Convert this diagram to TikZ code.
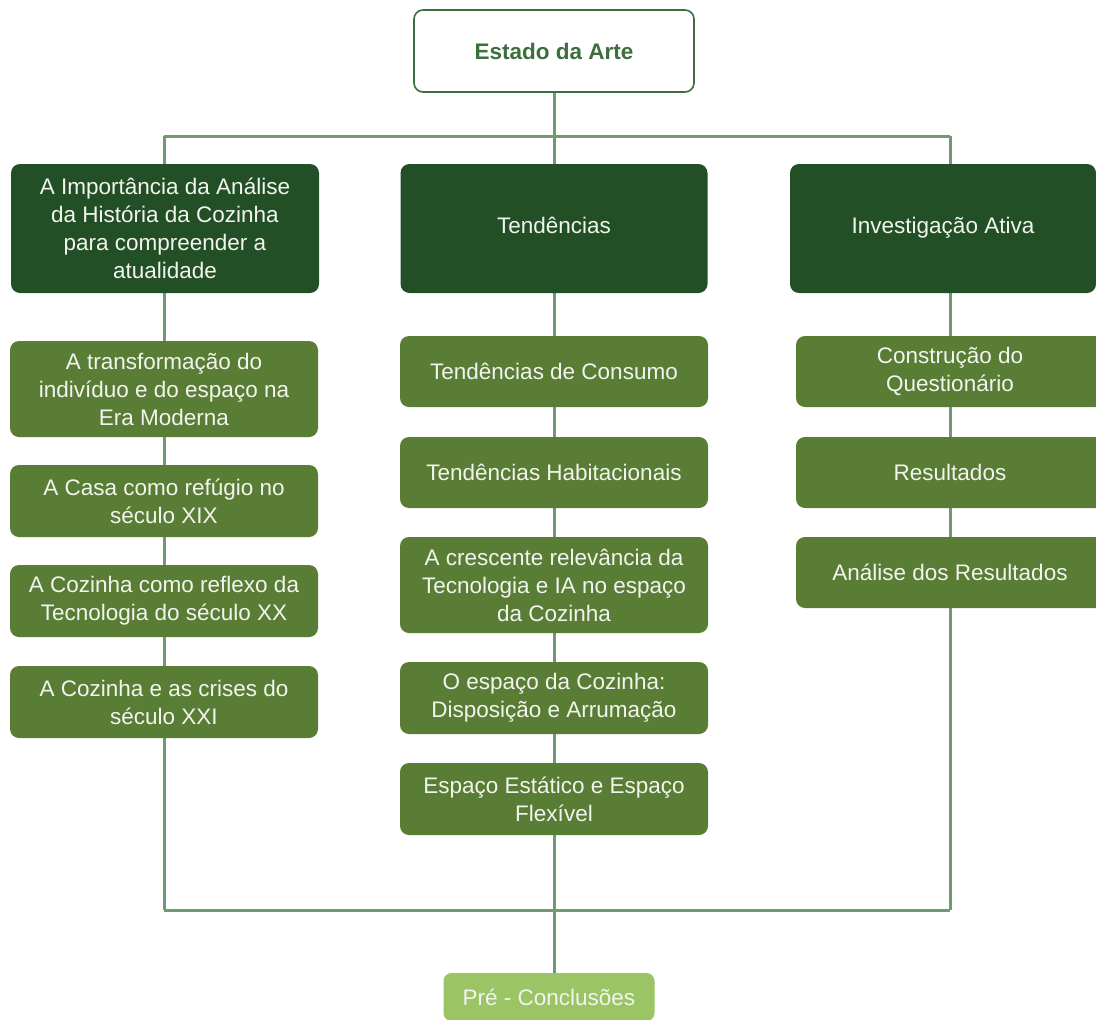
\documentclass[tikz,border=0pt]{standalone}
\usepackage{fontspec}
\setmainfont{Liberation Sans}
\usetikzlibrary{backgrounds}
\definecolor{darkgr}{HTML}{234F26}
\definecolor{midgr}{HTML}{5A7D35}
\definecolor{lightgr}{HTML}{9BC464}
\definecolor{linegr}{HTML}{6F9A72}
\definecolor{topgr}{HTML}{3C6E3E}
\definecolor{txtw}{HTML}{F2F4EE}
\tikzset{
  boxbase/.style={rounded corners=9pt, align=center, inner sep=0pt,
    font=\fontsize{22.5}{28}\selectfont, text=txtw},
  topbox/.style={boxbase, draw=topgr, line width=1.6pt, fill=white, text=topgr,
    font=\fontsize{22.5}{28}\selectfont\bfseries, minimum width=280pt, minimum height=82pt},
  headbox/.style={boxbase, fill=darkgr, minimum height=129pt},
  subbox/.style={boxbase, fill=midgr, minimum width=308pt},
  endbox/.style={boxbase, fill=lightgr, minimum width=211pt, minimum height=48pt, rounded corners=8pt},
  conn/.style={draw=linegr, line width=3pt}
}
\begin{document}
\begin{tikzpicture}[x=1pt,y={(0pt,-1pt)}]
\useasboundingbox (0,0) rectangle (1096,1020);
% top
\node[topbox] (top) at (554,51) {Estado da Arte};
% heads
\node[headbox, minimum width=308pt] (h1) at (165,228.5) {A Importância da Análise\\da História da Cozinha\\para compreender a\\atualidade};
\node[headbox, minimum width=307pt, text depth=6pt] (h2) at (554,228.5) {Tendências};
\node[headbox, minimum width=306pt, text depth=6pt] (h3) at (943,228.5) {Investigação Ativa};
% left column
\node[subbox, minimum height=96pt] (l1) at (164,389) {A transformação do\\indivíduo e do espaço na\\Era Moderna};
\node[subbox, minimum height=72pt] (l2) at (164,501) {A Casa como refúgio no\\século XIX};
\node[subbox, minimum height=72pt] (l3) at (164,601) {A Cozinha como reflexo da\\Tecnologia do século XX};
\node[subbox, minimum height=72pt] (l4) at (164,702) {A Cozinha e as crises do\\século XXI};
% middle column
\node[subbox, minimum height=71pt] (m1) at (554,371.5) {Tendências de Consumo};
\node[subbox, minimum height=71pt] (m2) at (554,472.5) {Tendências Habitacionais};
\node[subbox, minimum height=96pt] (m3) at (554,585) {A crescente relevância da\\Tecnologia e IA no espaço\\da Cozinha};
\node[subbox, minimum height=72pt] (m4) at (554,698) {O espaço da Cozinha:\\Disposição e Arrumação};
\node[subbox, minimum height=72pt] (m5) at (554,799) {Espaço Estático e Espaço\\Flexível};
% right column
\node[subbox, minimum height=71pt] (r1) at (950,371.5) {Construção do\\Questionário};
\node[subbox, minimum height=71pt] (r2) at (950,472.5) {Resultados};
\node[subbox, minimum height=71pt] (r3) at (950,572.5) {Análise dos Resultados};
% end
\node[endbox] (pre) at (549,997) {Pré - Conclusões};
% bar corners
\coordinate (tl) at (164,136);
\coordinate (tm) at (554,136);
\coordinate (tr) at (950,136);
\coordinate (bl) at (164,910);
\coordinate (bm) at (554,910);
\coordinate (br) at (950,910);
\begin{pgfonlayer}{background}
  \draw[conn] (tl) -- (tr);
  \draw[conn] (bl) -- (br);
  \draw[conn] (top.south) -- (tm) -- (h2.north);
  \draw[conn] (tl) -- (h1.north -| tl);
  \draw[conn] (tr) -- (h3.north -| tr);
  \draw[conn] (h1.south -| tl) -- (l1.north -| tl);
  \draw[conn] (l1.south -| tl) -- (l2.north -| tl);
  \draw[conn] (l2.south -| tl) -- (l3.north -| tl);
  \draw[conn] (l3.south -| tl) -- (l4.north -| tl);
  \draw[conn] (l4.south -| tl) -- (bl);
  \draw[conn] (h2.south -| tm) -- (m1.north -| tm);
  \draw[conn] (m1.south -| tm) -- (m2.north -| tm);
  \draw[conn] (m2.south -| tm) -- (m3.north -| tm);
  \draw[conn] (m3.south -| tm) -- (m4.north -| tm);
  \draw[conn] (m4.south -| tm) -- (m5.north -| tm);
  \draw[conn] (m5.south -| tm) -- (bm) -- (pre.north -| bm);
  \draw[conn] (h3.south -| tr) -- (r1.north -| tr);
  \draw[conn] (r1.south -| tr) -- (r2.north -| tr);
  \draw[conn] (r2.south -| tr) -- (r3.north -| tr);
  \draw[conn] (r3.south -| tr) -- (br);
\end{pgfonlayer}
\end{tikzpicture}
\end{document}
